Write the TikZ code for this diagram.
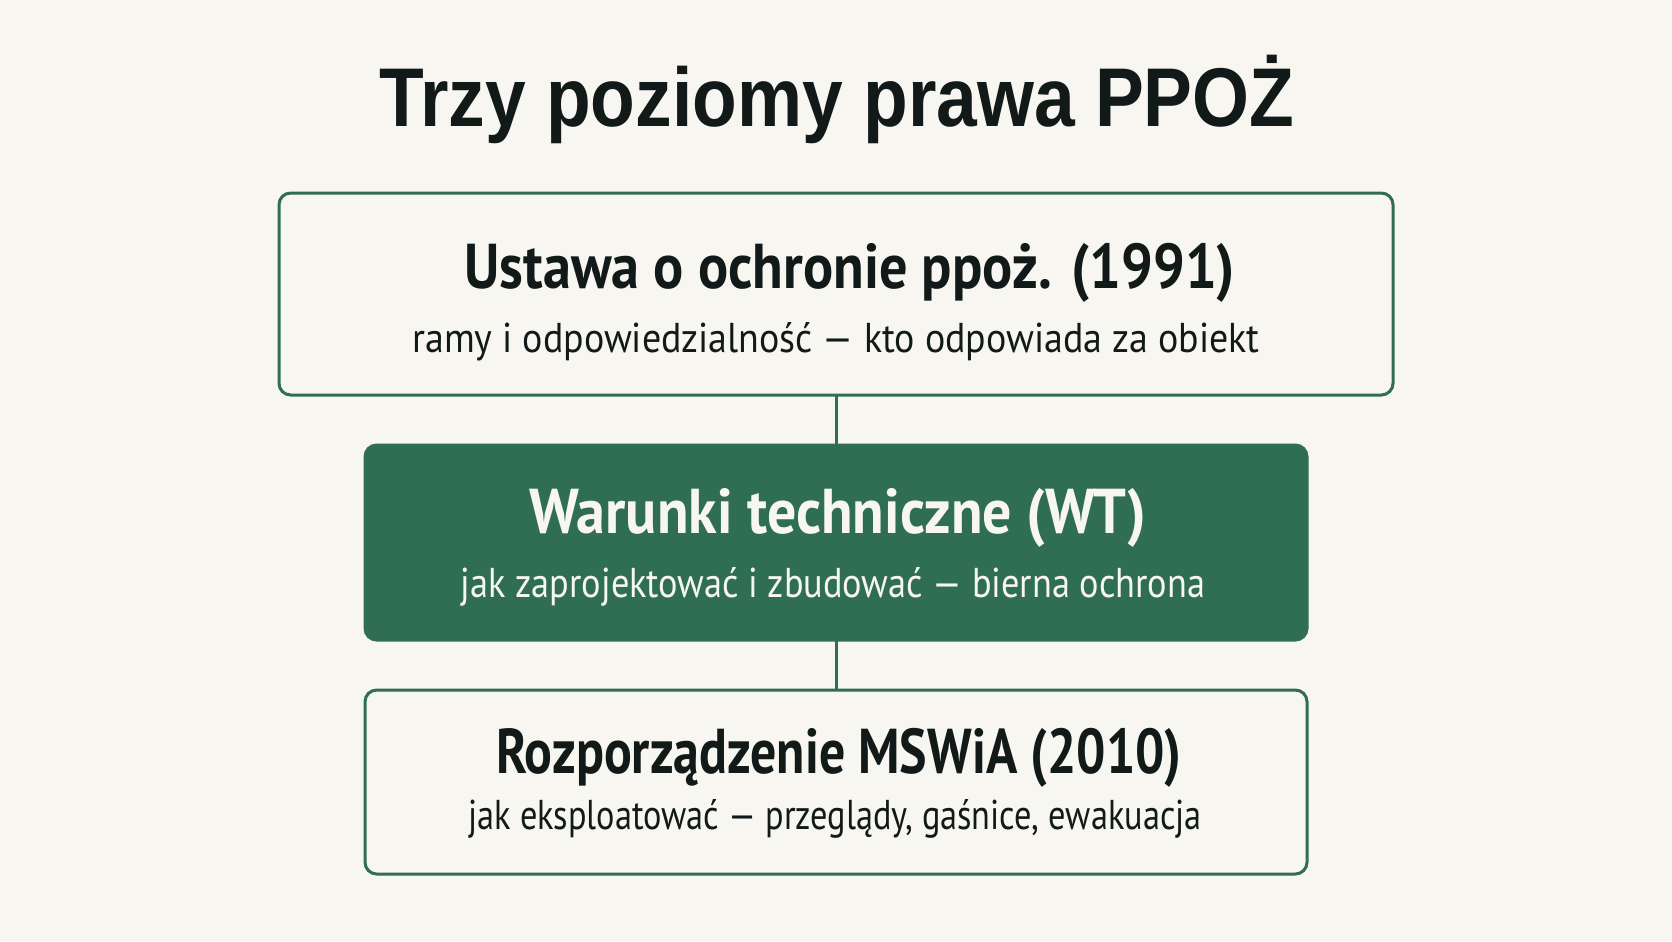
\documentclass[tikz,border=0pt]{standalone}
\usepackage{fontspec}
\usepackage{graphicx}
\setmainfont{Liberation Sans}
\newfontfamily\titlefont{Liberation Sans}
\newfontfamily\boxfont{PT Sans}
\definecolor{bg}{HTML}{F8F6F0}
\definecolor{grn}{HTML}{2F6E52}
\definecolor{ink}{HTML}{111A18}
\newcommand{\squeeze}[2]{\scalebox{#1}[1]{#2}}
\begin{document}
\begin{tikzpicture}[x=0.6pt,y=-0.6pt,
  frame/.style={draw=grn, line width=1.8pt, rounded corners=7pt, fill=bg},
  darkframe/.style={draw=grn, line width=1.8pt, rounded corners=7pt, fill=grn},
  head/.style={anchor=base, inner sep=0pt, font=\boxfont\bfseries\fontsize{38}{40}\selectfont, text=ink},
  sub/.style={anchor=base, inner sep=0pt, font=\boxfont\fontsize{25}{28}\selectfont, text=ink},
  link/.style={draw=grn, line width=1.8pt}]
\fill[bg] (0,0) rectangle (1672,941);
\useasboundingbox (0,0) rectangle (1672,941);
\node[anchor=base, inner sep=0pt, font=\titlefont\bfseries\fontsize{50}{54}\selectfont, text=ink] (title) at (837,126) {\squeeze{0.878}{Trzy poziomy prawa PPOŻ}};
% boxes
\path[frame] (279,193) rectangle (1393,395);
\path[darkframe] (365,445) rectangle (1307,640);
\path[frame] (365,690) rectangle (1307,874);
\coordinate (b1s) at (836,395);
\coordinate (b2n) at (836,445);
\coordinate (b2s) at (836,640);
\coordinate (b3n) at (836,690);
\draw[link] (b1s) -- (b2n);
\draw[link] (b2s) -- (b3n);
\node[head] (h1) at (850,288) {\squeeze{0.888}{Ustawa o ochronie ppoż. (1991)}};
\node[sub] (s1) at (836,352) {\squeeze{0.91}{ramy i odpowiedzialność — kto odpowiada za obiekt}};
\node[head, text=bg] (h2) at (838,533) {\squeeze{0.914}{Warunki techniczne (WT)}};
\node[sub, text=bg] (s2) at (833,597) {\squeeze{0.871}{jak zaprojektować i zbudować — bierna ochrona}};
\node[head] (h3) at (839,773) {\squeeze{0.818}{Rozporządzenie MSWiA (2010)}};
\node[sub] (s3) at (835,829) {\squeeze{0.823}{jak eksploatować — przeglądy, gaśnice, ewakuacja}};
\end{tikzpicture}
\end{document}
